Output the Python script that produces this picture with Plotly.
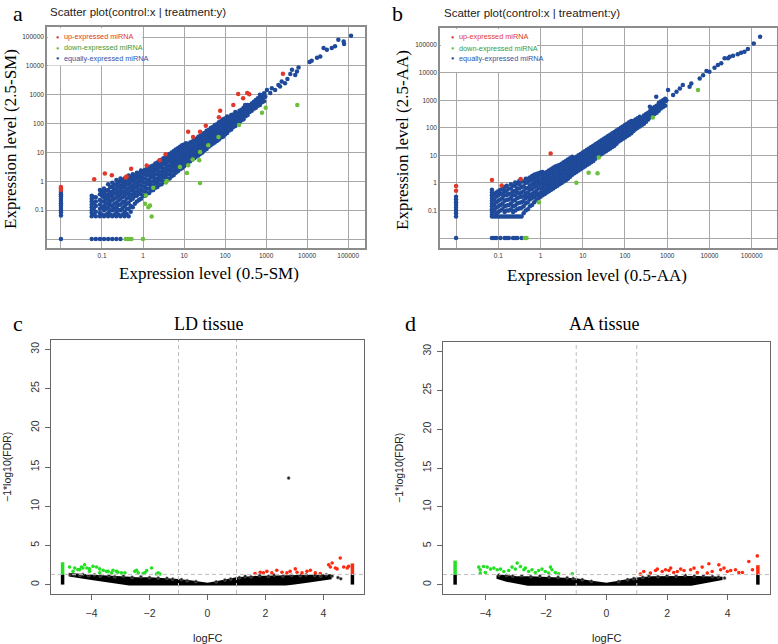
import plotly.graph_objects as go

# ============================
# panel a / b : log10(expression), -2 stands for "zero" (drawn at 0.01)
# ============================
a_up = [(-2, -0.2), (-2, -0.25), (-2, -0.3), (-1.19, 0.07), (-0.93, 0.27), (-0.76, 0.21),
        (-0.42, 0.13), (-0.4, 0.17), (-0.29, 0.44), (0.09, 0.55), (0.41, 0.73), (0.55, 0.94),
        (1.1, 1.72), (1.22, 1.54), (1.39, 1.72), (1.53, 1.93), (1.85, 2.22), (1.88, 2.45),
        (2.2, 2.65), (2.44, 2.88), (2.32, 3.03), (2.54, 3.06), (2.59, 3.02), (3.41, 3.73)]
a_down = [(-0.42, -2), (-0.37, -2), (-0.32, -2), (-0.28, -2), (0.0, -2), (0.21, -1.22),
          (0.05, -0.78), (0.13, -0.9), (0.17, -0.84), (0.07, -0.49), (0.25, -0.22), (0.56, -0.04),
          (0.58, 0.01), (1.39, -0.06), (1.07, 0.29), (0.9, 0.5), (1.1, 0.56), (1.21, 0.76),
          (1.37, 0.73), (1.39, 1.02), (1.59, 1.25), (1.84, 1.54), (2.34, 1.95), (2.9, 2.38),
          (2.99, 2.55), (3.76, 2.65)]
a_equal_rows = [
    (-2.0, [-0.37, -0.45, -0.52, -0.6, -0.68, -0.76, -0.84, -0.92, -1.0, -1.08, -1.18, -2.0]),
    (-1.25, [-1.21, -1.1, -1.0, -0.9, -0.8, -0.7, -0.6, -0.5, -2.0]),
    (-1.15, [-1.21, -1.05, -0.85, -0.7, -0.55, -2.0]),
    (-1.05, [-1.21, -1.1, -0.95, -0.8, -0.65, -0.45, -0.3, -2.0]),
    (-0.95, [-1.21, -1.0, -0.85, -0.7, -0.55, -0.4, -0.25, -2.0]),
    (-0.85, [-1.21, -1.1, -0.9, -0.75, -0.6, -0.45, -0.3, -0.1, -2.0]),
    (-0.75, [-1.21, -1.0, -0.85, -0.65, -0.5, -0.35, -0.2, -0.05, -2.0]),
    (-0.65, [-1.21, -1.05, -0.9, -0.75, -0.55, -0.4, -0.25, -0.1, 0.05, -2.0]),
    (-0.55, [-1.21, -1.0, -0.8, -0.6, -0.45, -0.3, -0.15, 0.0, 0.1, -2.0]),
    (-0.45, [-1.21, -1.05, -0.85, -0.7, -0.5, -0.35, -0.2, -0.05, 0.1]),
    (-0.35, [-1.21, -0.95, -0.75, -0.55, -0.4, -0.25, -0.1, 0.05, 0.2]),
    (-0.25, [-0.9, -0.6, -0.45, -0.3, -0.15, 0.0, 0.15, 0.25]),
    (-0.15, [-0.7, -0.5, -0.35, -0.2, -0.05, 0.1, 0.2, 0.3]),
    (-0.05, [-0.6, -0.45, -0.3, -0.15, 0.0, 0.15, 0.3, 0.38]),
    (0.05, [-0.5, -0.35, -0.2, -0.05, 0.1, 0.25, 0.4]),
    (0.15, [-0.4, -0.25, -0.1, 0.05, 0.2, 0.35, 0.48]),
    (0.25, [-0.3, -0.15, 0.0, 0.15, 0.3, 0.45, 0.55]),
    (0.35, [-0.2, -0.05, 0.1, 0.25, 0.4, 0.55, 0.65]),
    (0.45, [-0.1, 0.05, 0.2, 0.35, 0.5, 0.65, 0.75]),
    (0.55, [0.0, 0.15, 0.3, 0.45, 0.6, 0.75, 0.85]),
    (0.65, [0.1, 0.25, 0.4, 0.55, 0.7, 0.85, 0.95]),
    (0.75, [0.22, 0.38, 0.52, 0.65, 0.8, 0.95, 1.05]),
    (0.85, [0.35, 0.5, 0.65, 0.75, 0.9, 1.05, 1.15]),
    (0.95, [0.45, 0.6, 0.75, 0.85, 1.0, 1.15, 1.25]),
    (1.05, [0.58, 0.72, 0.85, 0.95, 1.1, 1.25, 1.32]),
    (1.15, [0.7, 0.85, 0.95, 1.05, 1.2, 1.35]),
    (1.25, [0.8, 0.95, 1.05, 1.15, 1.3, 1.45]),
    (1.35, [0.9, 1.05, 1.15, 1.25, 1.4, 1.55]),
    (1.45, [1.0, 1.15, 1.25, 1.35, 1.5, 1.65]),
    (1.55, [1.12, 1.25, 1.35, 1.45, 1.6, 1.75]),
    (1.65, [1.25, 1.35, 1.45, 1.55, 1.7, 1.85]),
    (1.75, [1.35, 1.45, 1.55, 1.65, 1.8, 1.95]),
    (1.85, [1.45, 1.55, 1.65, 1.78, 1.9, 2.05]),
    (1.95, [1.55, 1.68, 1.8, 1.9, 2.0, 2.15]),
    (2.05, [1.68, 1.8, 1.9, 2.0, 2.1, 2.25]),
    (2.15, [1.8, 1.9, 2.0, 2.12, 2.3]),
    (2.25, [1.92, 2.02, 2.15, 2.25, 2.4]),
    (2.35, [2.05, 2.15, 2.28, 2.45]),
    (2.45, [2.15, 2.3, 2.4, 2.55]),
    (2.55, [2.3, 2.45, 2.55, 2.65]),
    (2.65, [2.45, 2.58, 2.7]),
    (2.75, [2.55, 2.7, 2.82]),
    (2.85, [2.65, 2.8, 2.95]),
    (2.95, [2.78, 2.92, 3.05]),
]
# pontos intermediarios lidos entre as colunas acima
a_equal_fill = [
    (-1.2, [-1.15, -0.95, -0.75, -0.55]),
    (-1.0, [-1.15, -0.9, -0.7, -0.5, -0.35]),
    (-0.9, [-1.15, -0.95, -0.78, -0.62, -0.48, -0.32]),
    (-0.8, [-1.15, -1.0, -0.82, -0.68, -0.52, -0.38, -0.2]),
    (-0.7, [-1.15, -0.95, -0.78, -0.6, -0.42, -0.28, -0.12]),
    (-0.6, [-1.15, -0.98, -0.82, -0.66, -0.5, -0.35, -0.18, -0.02]),
    (-0.5, [-1.15, -0.92, -0.72, -0.55, -0.38, -0.22, -0.08, 0.05]),
    (-0.4, [-1.12, -0.95, -0.78, -0.6, -0.43, -0.28, -0.12, 0.02, 0.14]),
    (-0.3, [-1.05, -0.85, -0.65, -0.48, -0.32, -0.18, -0.02, 0.12]),
    (-0.2, [-0.78, -0.52, -0.38, -0.22, -0.08, 0.08, 0.2]),
    (-0.1, [-0.65, -0.42, -0.28, -0.12, 0.02, 0.16, 0.27]),
    (0.0, [-0.5, -0.33, -0.18, -0.03, 0.12, 0.26, 0.36]),
    (0.1, [-0.42, -0.26, -0.08, 0.06, 0.22, 0.36, 0.44]),
    (0.2, [-0.32, -0.16, -0.02, 0.14, 0.28, 0.42, 0.52]),
    (0.3, [-0.22, -0.06, 0.08, 0.24, 0.38, 0.5, 0.62]),
    (0.4, [-0.12, 0.04, 0.18, 0.32, 0.48, 0.6, 0.72]),
    (0.5, [-0.02, 0.14, 0.28, 0.42, 0.58, 0.7, 0.8]),
    (0.6, [0.08, 0.24, 0.38, 0.52, 0.68, 0.8, 0.92]),
    (0.7, [0.18, 0.34, 0.48, 0.62, 0.76, 0.9, 1.0]),
    (0.8, [0.3, 0.46, 0.58, 0.72, 0.86, 1.0, 1.1]),
    (0.9, [0.42, 0.56, 0.7, 0.82, 0.96, 1.1, 1.2]),
    (1.0, [0.52, 0.68, 0.8, 0.92, 1.06, 1.2, 1.28]),
    (1.1, [0.64, 0.78, 0.9, 1.02, 1.14, 1.28]),
    (1.2, [0.76, 0.88, 1.0, 1.12, 1.24, 1.38]),
    (1.3, [0.86, 0.98, 1.1, 1.22, 1.34, 1.48]),
    (1.4, [0.96, 1.08, 1.2, 1.32, 1.44, 1.58]),
    (1.5, [1.08, 1.2, 1.3, 1.42, 1.54, 1.68]),
    (1.6, [1.2, 1.3, 1.42, 1.52, 1.64, 1.78]),
    (1.7, [1.3, 1.4, 1.52, 1.62, 1.74, 1.88]),
    (1.8, [1.4, 1.52, 1.62, 1.72, 1.84, 1.98]),
    (1.9, [1.52, 1.62, 1.72, 1.84, 1.96, 2.08]),
    (2.0, [1.62, 1.74, 1.85, 1.95, 2.06, 2.18]),
    (2.1, [1.76, 1.86, 1.97, 2.08, 2.22]),
    (2.2, [1.88, 1.98, 2.1, 2.22, 2.32]),
    (2.3, [2.0, 2.12, 2.22, 2.35]),
    (2.4, [2.12, 2.22, 2.34, 2.48]),
    (2.5, [2.26, 2.38, 2.5, 2.6]),
    (2.6, [2.4, 2.52, 2.64]),
    (2.7, [2.52, 2.62, 2.76]),
    (2.8, [2.62, 2.74, 2.88]),
    (2.9, [2.74, 2.86, 2.98]),
]
a_equal_tail = [(5.07, 5.05), (4.89, 4.85), (4.9, 4.76), (4.76, 4.91), (4.68, 4.68), (4.6, 4.62),
                (4.48, 4.56), (4.4, 4.62), (4.32, 4.33), (4.24, 4.28), (4.11, 4.18), (4.06, 4.14),
                (3.79, 3.95), (3.75, 3.81), (3.71, 3.69), (3.63, 3.87), (3.59, 3.72), (3.52, 3.55),
                (3.46, 3.4), (3.38, 3.46), (3.34, 3.29), (3.3, 3.34), (3.22, 3.17), (3.14, 3.23),
                (3.1, 3.06), (3.02, 3.17), (2.98, 2.94), (2.9, 2.82), (2.85, 3.0), (2.81, 2.65),
                (2.73, 2.71), (2.65, 2.65), (2.57, 2.53), (2.49, 2.65), (2.43, 2.47), (2.37, 2.36)]

b_up = [(-2, -0.11), (-2, -0.28), (-1.15, 0.11), (-0.92, -0.09), (-0.47, 0.14), (0.24, 1.07)]
b_down = [(-0.37, -2), (-0.33, -2), (-0.04, -0.7), (0.85, 0.01), (1.14, 0.37), (1.35, 0.35),
          (1.38, 0.92), (2.66, 2.37), (3.73, 3.37)]
b_equal_rows = [
    (-2.0, [-0.5, -0.6, -0.7, -0.8, -0.9, -1.0, -1.1, -1.22, -2.0]),
    (-1.15, [-0.25, -0.35, -0.45, -0.55, -0.65, -0.75, -0.85, -0.95, -1.05, -1.15, -1.22, -2.0]),
    (-1.05, [-1.22, -1.1, -0.9, -0.7, -0.5, -0.35, -2.0]),
    (-0.95, [-1.22, -1.0, -0.8, -0.6, -0.4, -0.25, -2.0]),
    (-0.85, [-1.22, -1.05, -0.85, -0.65, -0.45, -0.3, -0.15, -2.0]),
    (-0.75, [-1.22, -1.0, -0.8, -0.6, -0.4, -0.2, -2.0]),
    (-0.65, [-1.22, -1.05, -0.85, -0.65, -0.45, -0.3, -0.1, -2.0]),
    (-0.55, [-1.22, -0.95, -0.75, -0.55, -0.35, -0.2, 0.0, -2.0]),
    (-0.45, [-1.22, -0.9, -0.7, -0.5, -0.35, -0.15, 0.05, -2.0]),
    (-0.35, [-1.0, -0.75, -0.55, -0.4, -0.2, 0.0, 0.15]),
    (-0.25, [-0.85, -0.6, -0.45, -0.25, -0.1, 0.1, 0.2]),
    (-0.15, [-0.7, -0.5, -0.35, -0.15, 0.0, 0.15, 0.3]),
    (-0.05, [-0.55, -0.4, -0.2, -0.05, 0.1, 0.25, 0.35]),
    (0.05, [-0.45, -0.3, -0.15, 0.0, 0.15, 0.3, 0.4]),
    (0.15, [-0.35, -0.2, -0.05, 0.1, 0.25, 0.4]),
    (0.25, [-0.25, -0.1, 0.05, 0.2, 0.35, 0.5]),
    (0.35, [-0.15, 0.0, 0.15, 0.3, 0.45, 0.6]),
    (0.45, [-0.05, 0.1, 0.25, 0.4, 0.55, 0.65]),
    (0.55, [0.05, 0.2, 0.35, 0.5, 0.65, 0.75]),
    (0.65, [0.15, 0.3, 0.45, 0.6, 0.75, 0.85]),
    (0.75, [0.3, 0.45, 0.55, 0.7, 0.85, 0.95]),
    (0.85, [0.4, 0.55, 0.65, 0.8, 0.95]),
    (0.95, [0.5, 0.65, 0.75, 0.9, 1.05]),
    (1.05, [0.6, 0.75, 0.85, 1.0, 1.15]),
    (1.15, [0.7, 0.85, 0.95, 1.1, 1.25]),
    (1.25, [0.8, 0.95, 1.05, 1.2, 1.35]),
    (1.35, [0.95, 1.05, 1.15, 1.3, 1.45]),
    (1.45, [1.05, 1.15, 1.3, 1.4, 1.55]),
    (1.55, [1.15, 1.25, 1.4, 1.5, 1.65]),
    (1.65, [1.25, 1.4, 1.5, 1.6, 1.75]),
    (1.75, [1.35, 1.5, 1.6, 1.7, 1.85]),
    (1.85, [1.5, 1.6, 1.7, 1.8, 1.95]),
    (1.95, [1.6, 1.7, 1.8, 1.9, 2.05]),
    (2.05, [1.7, 1.8, 1.9, 2.0, 2.15]),
    (2.15, [1.8, 1.9, 2.0, 2.1, 2.25]),
    (2.25, [1.95, 2.05, 2.15, 2.3]),
    (2.35, [2.05, 2.15, 2.25, 2.4]),
    (2.45, [2.15, 2.3, 2.45]),
    (2.55, [2.3, 2.45, 2.55]),
    (2.65, [2.45, 2.55, 2.7]),
    (2.75, [2.55, 2.7, 2.8]),
    (2.85, [2.7, 2.85, 2.95]),
    (2.95, [2.8, 2.95, 3.05]),
]
b_equal_fill = [
    (-1.1, [-1.22, -1.0, -0.8, -0.6, -0.42, -2.0]),
    (-1.0, [-1.22, -1.05, -0.85, -0.65, -0.45, -0.3]),
    (-0.9, [-1.22, -0.95, -0.75, -0.55, -0.38, -0.22]),
    (-0.8, [-1.22, -1.0, -0.82, -0.62, -0.45, -0.28, -0.1, -2.0]),
    (-0.7, [-1.22, -0.95, -0.75, -0.55, -0.38, -0.2, -0.05]),
    (-0.6, [-1.22, -1.0, -0.82, -0.62, -0.45, -0.28, -0.1, 0.02, -2.0]),
    (-0.5, [-1.22, -0.92, -0.72, -0.52, -0.38, -0.2, -0.05, 0.08]),
    (-0.4, [-1.1, -0.85, -0.65, -0.48, -0.3, -0.12, 0.05]),
    (-0.3, [-0.95, -0.7, -0.52, -0.35, -0.18, 0.02, 0.15]),
    (-0.2, [-0.8, -0.55, -0.4, -0.22, -0.05, 0.12, 0.25]),
    (-0.1, [-0.62, -0.45, -0.28, -0.1, 0.05, 0.2, 0.32]),
    (0.0, [-0.5, -0.35, -0.18, -0.02, 0.12, 0.28, 0.38]),
    (0.1, [-0.4, -0.25, -0.08, 0.06, 0.2, 0.35]),
    (0.2, [-0.3, -0.15, 0.0, 0.14, 0.3, 0.45]),
    (0.3, [-0.2, -0.05, 0.1, 0.24, 0.4, 0.55]),
    (0.4, [-0.1, 0.05, 0.2, 0.34, 0.5, 0.62]),
    (0.5, [0.0, 0.15, 0.3, 0.44, 0.6, 0.7]),
    (0.6, [0.1, 0.25, 0.4, 0.54, 0.7, 0.8]),
    (0.7, [0.22, 0.38, 0.5, 0.64, 0.8, 0.9]),
    (0.8, [0.35, 0.5, 0.6, 0.75, 0.9]),
    (0.9, [0.45, 0.6, 0.7, 0.85, 1.0]),
    (1.0, [0.55, 0.7, 0.8, 0.95, 1.1]),
    (1.1, [0.65, 0.8, 0.9, 1.05, 1.2]),
    (1.2, [0.75, 0.9, 1.0, 1.15, 1.3]),
    (1.3, [0.88, 1.0, 1.1, 1.25, 1.4]),
    (1.4, [1.0, 1.1, 1.22, 1.35, 1.5]),
    (1.5, [1.1, 1.2, 1.35, 1.45, 1.6]),
    (1.6, [1.2, 1.32, 1.45, 1.55, 1.7]),
    (1.7, [1.3, 1.45, 1.55, 1.65, 1.8]),
    (1.8, [1.42, 1.55, 1.65, 1.75, 1.9]),
    (1.9, [1.55, 1.65, 1.75, 1.85, 2.0]),
    (2.0, [1.65, 1.75, 1.85, 1.95, 2.1]),
    (2.1, [1.75, 1.85, 1.95, 2.05, 2.2]),
    (2.2, [1.88, 1.98, 2.1, 2.25]),
    (2.3, [2.0, 2.1, 2.2, 2.35]),
    (2.4, [2.1, 2.22, 2.35]),
    (2.5, [2.22, 2.38, 2.5]),
    (2.6, [2.38, 2.5, 2.62]),
    (2.7, [2.5, 2.62, 2.75]),
    (2.8, [2.62, 2.78, 2.9]),
    (2.9, [2.75, 2.9, 3.0]),
]
b_equal_tail = [(5.2, 5.3), (5.05, 5.06), (4.91, 4.86), (4.83, 4.76), (4.75, 4.72), (4.67, 4.67),
                (4.56, 4.61), (4.48, 4.58), (4.44, 4.52), (4.36, 4.52), (4.28, 4.34), (4.2, 4.28),
                (4.12, 4.18), (4.0, 4.03), (3.93, 4.06), (3.85, 3.91), (3.77, 3.79), (3.57, 3.61),
                (3.53, 3.49), (3.37, 3.55), (3.3, 3.43), (3.22, 3.31), (3.14, 3.19), (3.02, 3.37),
                (2.98, 3.0), (2.9, 2.95), (2.86, 2.83), (2.74, 3.13), (2.74, 2.76), (2.66, 2.64),
                (2.59, 2.76), (2.55, 2.53), (2.47, 2.4)]

decades = [0.01, 0.1, 1, 10, 100, 1000, 10000, 100000]
decade_text = ["", "0.1", "1", "10", "100", "1000", "10000", "100000"]

# ============================
# panel c / d : volcano (logFC, -1*log10(FDR))
# ============================
c_cloud = [(-4.75, 1.35), (-4.5, 1.25), (-4.2, 1.2), (-3.8, 1.1), (-3.4, 1.0), (-3.0, 0.95),
           (-2.5, 0.85), (-2.0, 0.8), (-1.5, 0.7), (-1.0, 0.6), (-0.6, 0.42), (-0.3, 0.25),
           (0.0, 0.12), (0.3, 0.3), (0.6, 0.55), (1.0, 0.8), (1.5, 0.95), (2.0, 1.0),
           (2.5, 1.05), (3.0, 1.05), (3.5, 1.1), (4.0, 1.15), (4.25, 1.2),
           (4.25, 0.8), (4.0, 0.65), (3.5, 0.4), (3.0, 0.15), (2.7, 0.0), (-2.7, 0.0),
           (-3.0, 0.15), (-3.5, 0.4), (-4.0, 0.7), (-4.5, 1.0), (-4.75, 1.15)]
c_black = [(-4.75, 1.3), (-4.6, 1.25), (-4.4, 1.2), (-4.3, 1.3), (-4.1, 1.15), (-3.9, 1.25),
           (-3.7, 1.1), (-3.4, 1.15), (-3.2, 1.0), (-2.9, 1.1), (-2.6, 0.95), (-2.3, 1.0),
           (-2.0, 0.9), (-1.7, 0.85), (-1.4, 0.8), (-1.2, 0.7), (-0.9, 0.65), (-0.7, 0.5),
           (-0.4, 0.4), (0.3, 0.35), (0.6, 0.6), (0.8, 0.72), (1.1, 0.9), (1.3, 1.05),
           (1.5, 1.0), (1.8, 1.15), (2.1, 1.05), (2.3, 1.22), (2.6, 1.1), (2.9, 1.2),
           (3.2, 1.15), (3.4, 1.25), (3.7, 1.2), (3.9, 1.1), (4.1, 1.25), (4.3, 1.1),
           (4.5, 0.9), (4.6, 0.75), (2.8, 13.6)]
c_green = [(-4.76, 2.25), (-4.58, 2.12), (-4.47, 1.91), (-4.35, 2.25), (-4.24, 2.54), (-4.16, 2.12),
           (-4.07, 2.0), (-3.95, 2.33), (-3.83, 2.25), (-3.72, 2.0), (-3.6, 1.82), (-3.43, 1.69),
           (-3.26, 1.82), (-3.09, 1.57), (-2.85, 1.49), (-2.45, 1.82), (-2.22, 1.4), (-1.93, 2.12),
           (-1.76, 1.36), (-1.64, 1.35), (-4.64, 1.69), (-4.41, 1.91), (-4.3, 2.12), (-4.07, 1.69),
           (-3.72, 1.49), (-3.49, 1.69), (-3.31, 1.49), (-3.14, 1.69), (-2.97, 1.49), (-2.51, 1.69),
           (-2.39, 1.49), (-2.16, 1.49), (-2.1, 1.78), (-1.7, 1.49)]
c_red = [(1.64, 1.4), (1.82, 1.57), (1.93, 1.49), (2.05, 1.69), (2.22, 1.49), (2.39, 1.82),
         (2.57, 1.57), (2.74, 1.49), (2.85, 1.69), (3.03, 2.0), (3.09, 1.57), (3.26, 1.49),
         (3.43, 1.69), (3.55, 1.82), (3.72, 1.49), (3.89, 1.4), (4.18, 2.54), (4.24, 2.25),
         (4.3, 2.76), (4.41, 2.12), (4.47, 2.0), (4.58, 3.4), (4.7, 2.25), (4.82, 2.12),
         (4.87, 2.33)]
c_bar_black = [0.0, 1.3]
c_bar_green = [1.3, 2.85]
c_bar_red = [1.3, 2.7]

d_cloud = [(-3.6, 1.2), (-3.3, 1.1), (-3.0, 1.0), (-2.5, 0.95), (-2.0, 0.88), (-1.5, 0.8),
           (-1.0, 0.7), (-0.6, 0.45), (-0.3, 0.25), (0.0, 0.12), (0.3, 0.3), (0.6, 0.55),
           (1.0, 0.8), (1.5, 0.95), (2.0, 1.0), (2.5, 1.0), (3.0, 1.0), (3.5, 0.95), (3.8, 0.9),
           (3.8, 0.7), (3.5, 0.5), (3.0, 0.15), (2.8, 0.0), (-2.6, 0.0), (-3.0, 0.25),
           (-3.3, 0.5), (-3.6, 0.85)]
d_black = [(-3.55, 1.25), (-3.3, 1.2), (-3.1, 1.1), (-2.8, 1.15), (-2.5, 1.05), (-2.2, 1.1),
           (-1.9, 1.0), (-1.6, 0.95), (-1.3, 0.9), (-1.1, 0.8), (-0.8, 0.65), (-0.5, 0.45),
           (0.4, 0.4), (0.7, 0.65), (0.9, 0.8), (1.2, 0.95), (1.4, 1.1), (1.7, 1.05), (2.0, 1.15),
           (2.3, 1.1), (2.6, 1.2), (2.9, 1.1), (3.2, 1.15), (3.5, 1.05), (3.7, 1.0), (3.9, 0.85)]
d_green = [(-4.22, 2.26), (-4.17, 1.92), (-4.06, 2.34), (-3.94, 2.26), (-3.83, 2.0), (-3.72, 2.13),
           (-3.61, 1.92), (-3.5, 2.0), (-4.17, 1.49), (-4.0, 1.57), (-3.39, 1.7), (-3.23, 1.83),
           (-3.12, 2.26), (-3.01, 2.0), (-2.95, 2.77), (-2.84, 2.34), (-2.73, 1.92), (-2.68, 2.13),
           (-2.57, 1.7), (-2.46, 1.92), (-2.35, 1.57), (-2.24, 1.83), (-2.13, 2.0), (-2.02, 1.7),
           (-1.91, 1.49), (-1.85, 2.26), (-1.8, 1.92), (-1.69, 1.57), (-1.58, 1.4), (-1.13, 1.4)]
d_red = [(1.12, 1.35), (1.23, 1.7), (1.45, 1.49), (1.62, 1.83), (1.68, 2.0), (1.84, 1.7),
         (1.95, 1.92), (2.06, 1.83), (2.12, 2.13), (2.22, 1.57), (2.34, 1.7), (2.45, 2.0),
         (2.56, 1.83), (2.78, 1.92), (2.89, 2.13), (3.0, 1.57), (3.16, 2.26), (3.33, 1.49),
         (3.38, 2.68), (3.49, 1.7), (3.71, 2.55), (3.77, 1.92), (3.88, 2.13), (3.99, 1.7),
         (4.1, 1.83), (4.26, 1.92), (4.37, 1.57), (4.49, 1.57), (4.7, 2.98), (4.82, 1.92),
         (4.98, 3.7)]
d_bar_black = [0.0, 1.3]
d_bar_green = [1.3, 3.1]
d_bar_red = [1.3, 2.5]

fc_cut = 1
fdr_cut = 1.301  # -log10(0.05)
fc_end = 5

# ============================
# cores / fontes
# ============================
BLUE = "#1f4a9a"
RED = "#e0382b"
GREEN = "#6cbf3c"
V_GREEN = "#22e022"
V_RED = "#ff2a10"
SANS = "Liberation Sans, Arial"
SERIF = "Liberation Serif, Times New Roman"


def flat(rows):
    xs, ys = [], []
    for x, yl in rows:
        for y in yl:
            xs.append(x)
            ys.append(y)
    return xs, ys


def unzip(pairs):
    return [p[0] for p in pairs], [p[1] for p in pairs]


def lin(v):
    return [10 ** t for t in v]


fig = go.Figure()

# ---------- scatter panels ----------
for n, rows, fill, tail, up, down in [("", a_equal_rows, a_equal_fill, a_equal_tail, a_up, a_down),
                                       ("2", b_equal_rows, b_equal_fill, b_equal_tail, b_up, b_down)]:
    ex, ey = flat(rows + fill)
    tx, ty = unzip(tail)
    ex, ey = ex + tx, ey + ty
    ux, uy = unzip(up)
    dx, dy = unzip(down)
    for xs, ys, col in [(ex, ey, BLUE), (ux, uy, RED), (dx, dy, GREEN)]:
        fig.add_trace(go.Scatter(
            x=lin(xs), y=lin(ys), mode="markers", xaxis="x" + n, yaxis="y" + n,
            marker=dict(color=col, size=4.5, line=dict(width=0)),
            showlegend=False, hoverinfo="skip"))

# ---------- volcano panels ----------
for n, cloud, black, green, red, bk, bg, br in [
        ("3", c_cloud, c_black, c_green, c_red, c_bar_black, c_bar_green, c_bar_red),
        ("4", d_cloud, d_black, d_green, d_red, d_bar_black, d_bar_green, d_bar_red)]:
    cx, cy = unzip(cloud)
    fig.add_trace(go.Scatter(x=cx + [cx[0]], y=cy + [cy[0]], mode="lines", fill="toself",
                             fillcolor="black", line=dict(color="black", width=2),
                             xaxis="x" + n, yaxis="y" + n, showlegend=False, hoverinfo="skip"))
    bx, by = unzip(black)
    fig.add_trace(go.Scatter(x=bx, y=by, mode="markers", xaxis="x" + n, yaxis="y" + n,
                             marker=dict(color="#222", size=3, line=dict(color="#777", width=0.5)),
                             showlegend=False, hoverinfo="skip"))
    for xv, yv, col in [(-fc_end, bk, "black"), (fc_end, bk, "black"),
                        (-fc_end, bg, V_GREEN), (fc_end, br, V_RED)]:
        fig.add_trace(go.Scatter(x=[xv, xv], y=yv, mode="lines", xaxis="x" + n, yaxis="y" + n,
                                 line=dict(color=col, width=3.5),
                                 showlegend=False, hoverinfo="skip"))
    for pts, col in [(green, V_GREEN), (red, V_RED)]:
        px_, py_ = unzip(pts)
        fig.add_trace(go.Scatter(x=px_, y=py_, mode="markers", xaxis="x" + n, yaxis="y" + n,
                                 marker=dict(color=col, size=3.6, line=dict(width=0)),
                                 showlegend=False, hoverinfo="skip"))

W, H = 778, 644


def dom_x(l, r):
    return [l / W, r / W]


def dom_y(t, b):
    return [1 - b / H, 1 - t / H]


sc_axis = dict(type="log", tickvals=decades, ticktext=decade_text, showgrid=True,
               gridcolor="#a8a8a8", gridwidth=1, showline=True, linecolor="#8c8c8c",
               linewidth=1.5, mirror=True, ticks="", zeroline=False,
               tickfont=dict(family=SANS, size=6.5, color="#333"))
vo_axis = dict(showgrid=False, zeroline=False, showline=True, linecolor="#666", linewidth=1,
               mirror=True, ticks="outside", ticklen=5, tickcolor="#666",
               tickfont=dict(family=SANS, size=10.5, color="#333"))

fig.update_layout(
    width=W, height=H, autosize=False, margin=dict(l=0, r=0, t=0, b=0),
    plot_bgcolor="white", paper_bgcolor="white",
    xaxis=dict(sc_axis, domain=dom_x(47, 365), range=[-2.34, 5.41], anchor="y"),
    yaxis=dict(sc_axis, domain=dom_y(27, 248), range=[-2.31, 5.35], anchor="x"),
    xaxis2=dict(sc_axis, domain=dom_x(440, 777), range=[-2.38, 5.6], anchor="y2"),
    yaxis2=dict(sc_axis, domain=dom_y(28, 248), range=[-2.36, 5.62], anchor="x2"),
    xaxis3=dict(vo_axis, domain=dom_x(51, 364), range=[-5.4, 5.4], anchor="y3",
                tickvals=[-4, -2, 0, 2, 4], ticktext=["\u22124", "\u22122", "0", "2", "4"],
                ticklabelstandoff=4),
    yaxis3=dict(vo_axis, domain=dom_y(340, 594), range=[-1.2, 31.2], anchor="x3",
                tickvals=[0, 5, 10, 15, 20, 25, 30], tickangle=-90, ticklabelstandoff=2),
    xaxis4=dict(vo_axis, domain=dom_x(443, 770), range=[-5.4, 5.4], anchor="y4",
                tickvals=[-4, -2, 0, 2, 4], ticktext=["\u22124", "\u22122", "0", "2", "4"],
                ticklabelstandoff=4),
    yaxis4=dict(vo_axis, domain=dom_y(342, 594), range=[-1.2, 31.2], anchor="x4",
                tickvals=[0, 5, 10, 15, 20, 25, 30], tickangle=-90, ticklabelstandoff=2),
)

# caixa branca da legenda (cobre a grade)
fig.add_shape(type="rect", xref="x domain", yref="y domain", x0=0.003, x1=0.299, y0=0.826,
              y1=0.995, fillcolor="white", line=dict(width=0), layer="above")
fig.add_shape(type="rect", xref="x2 domain", yref="y2 domain", x0=0.003, x1=0.288, y0=0.8,
              y1=0.995, fillcolor="white", line=dict(width=0), layer="above")

# linhas de corte do volcano
for n in ["3", "4"]:
    for xv in [-fc_cut, fc_cut]:
        fig.add_shape(type="line", xref="x" + n, yref="y" + n + " domain", x0=xv, x1=xv,
                      y0=0, y1=1, line=dict(color="#bdbdbd", width=1, dash="4px,3px"))
    fig.add_shape(type="line", xref="x" + n + " domain", yref="y" + n, x0=0, x1=1,
                  y0=fdr_cut, y1=fdr_cut, line=dict(color="#bdbdbd", width=1, dash="4px,3px"))


def txt(x, y, s, size, family=SANS, color="black", angle=0, xanchor="center"):
    fig.add_annotation(x=x / W, y=1 - y / H, xref="paper", yref="paper", text=s,
                       showarrow=False, xanchor=xanchor, yanchor="middle", textangle=angle,
                       font=dict(family=family, size=size, color=color))


# letras dos paineis
txt(18, 13, "a", 22, SERIF)
txt(398, 13, "b", 22, SERIF)
txt(18, 324, "c", 22, SERIF)
txt(411, 324, "d", 22, SERIF)

# titulos
txt(48, 12, "Scatter plot(control:x | treatment:y)", 11.5, xanchor="left", color="#222")
txt(442, 13, "Scatter plot(control:x | treatment:y)", 11.5, xanchor="left", color="#222")
txt(209, 324, "LD tissue", 18, SERIF)
txt(604, 324, "AA tissue", 18, SERIF)

# legendas
legend_labels = ["up-expressed miRNA", "down-expressed miRNA", "equally-expressed miRNA"]
legend_dot = [RED, GREEN, BLUE]
legend_txt = [RED, "#3a9a3a", "#2f55a8"]
for (lx, tx0), rows_y in [((57, 62), [36.7, 47.7, 58.3]), ((452, 457), [36.7, 48, 58.3])]:
    for yy, lab, dc, tc in zip(rows_y, legend_labels, legend_dot, legend_txt):
        txt(lx, yy, "\u25cf", 5.5, color=dc)
        txt(tx0, yy, lab, 7.3, xanchor="left", color=tc)

# titulos dos eixos
txt(209, 273, "Expression level (0.5-SM)", 17, SERIF)
txt(10, 139, "Expression level (2.5-SM)", 17, SERIF, angle=-90)
txt(597, 275, "Expression level (0.5-AA)", 17, SERIF)
txt(403, 140, "Expression level (2.5-AA)", 17, SERIF, angle=-90)
txt(208, 638, "logFC", 11, color="#222")
txt(606, 638, "logFC", 11, color="#222")
txt(7, 467, "\u22121*log10(FDR)", 10.5, angle=-90, color="#222")
txt(399, 468, "\u22121*log10(FDR)", 10.5, angle=-90, color="#222")

# a pagina padrao tem margem de 8px no body; zera para a figura ocupar a janela toda
fig.write_html("out.html", config={"displayModeBar": False},
               post_script="document.body.style.margin='0px';")
